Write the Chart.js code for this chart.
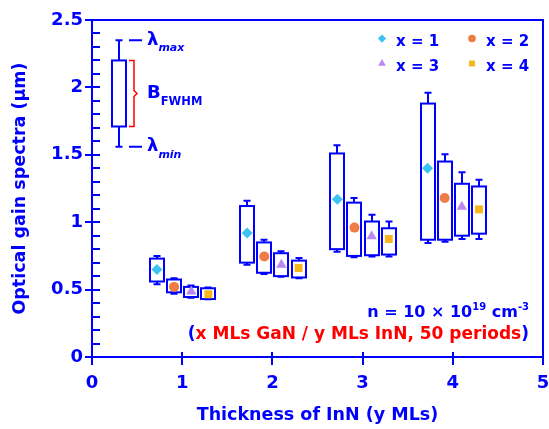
<!DOCTYPE html>
<html>
<head>
<meta charset="utf-8">
<script src="https://cdn.jsdelivr.net/npm/chart.js@4.4.1/dist/chart.umd.min.js"></script>
<style>
  html, body { margin: 0; padding: 0; background: #fff; }
</style>
</head>
<body>
<canvas id="gainChart" width="549" height="429"></canvas>
<script>
// --- data ---
const inNLayers = [1, 2, 3, 4];                       // y MLs
const seriesLabels = ["x = 1", "x = 2", "x = 3", "x = 4"]; // x MLs GaN

// each row = one x series, columns = y MLs 1..4 (um)
const peakGain = [
  [0.65, 0.92, 1.17, 1.40],
  [0.52, 0.745, 0.96, 1.18],
  [0.485, 0.685, 0.895, 1.115],
  [0.465, 0.66, 0.875, 1.095],
];
const lambdaMax = [
  [0.75, 1.16, 1.57, 1.96],
  [0.585, 0.87, 1.18, 1.505],
  [0.53, 0.785, 1.055, 1.37],
  [0.515, 0.735, 1.005, 1.315],
];
const fwhmTop = [
  [0.73, 1.12, 1.51, 1.88],
  [0.575, 0.85, 1.145, 1.45],
  [0.52, 0.77, 1.005, 1.285],
  [0.51, 0.715, 0.955, 1.265],
];
const fwhmBottom = [
  [0.56, 0.70, 0.80, 0.87],
  [0.48, 0.625, 0.75, 0.87],
  [0.445, 0.60, 0.755, 0.90],
  [0.43, 0.59, 0.76, 0.915],
];
const lambdaMin = [
  [0.54, 0.685, 0.78, 0.845],
  [0.47, 0.615, 0.74, 0.855],
  [0.44, 0.595, 0.745, 0.875],
  [0.428, 0.585, 0.745, 0.875],
];

// schematic key box (upper left): min, fwhm low, fwhm high, max
const keyX = 0.3;
const keyBox = [1.56, 1.71, 2.20, 2.35];

const xTicks = [0, 1, 2, 3, 4, 5];
const yTicks = [0, 0.5, 1, 1.5, 2, 2.5];

// --- styles ---
const BLUE = "#0000ff";
const RED = "#ff0000";
const FAMILY = "'DejaVu Sans', sans-serif";
const colors = ["#3cc3f3", "#ef7b45", "#b98af2", "#f5b719"];
const shapes = ["rectRot", "circle", "triangle", "rect"];
const radii = [5.5, 5, 6, 5.6];
const shift = [-0.28, -0.09, 0.10, 0.29];

const datasets = seriesLabels.map((label, s) => ({
  label: label,
  data: inNLayers.map((y, g) => ({ x: y + shift[s], y: peakGain[s][g] })),
  pointStyle: shapes[s],
  pointRadius: radii[s],
  pointHoverRadius: radii[s],
  backgroundColor: colors[s],
  borderColor: colors[s],
  borderWidth: 0,
  showLine: false,
}));

function drawBox(ctx, x, y, xv, vals) {
  const cx = Math.round(x.getPixelForValue(xv));
  const [lo, bLo, bHi, hi] = vals.map((v) => y.getPixelForValue(v));
  ctx.beginPath();
  ctx.moveTo(cx, hi); ctx.lineTo(cx, bHi);
  ctx.moveTo(cx, bLo); ctx.lineTo(cx, lo);
  ctx.moveTo(cx - 3.5, hi); ctx.lineTo(cx + 3.5, hi);
  ctx.moveTo(cx - 3.5, lo); ctx.lineTo(cx + 3.5, lo);
  ctx.stroke();
  ctx.fillRect(cx - 7, bHi, 14, bLo - bHi);
  ctx.strokeRect(cx - 7, bHi, 14, bLo - bHi);
  return { cx, lo, bLo, bHi, hi };
}

// text made of several pieces (sub/superscripts, two colours)
function textRuns(ctx, parts, x, y, align) {
  let w = 0;
  parts.forEach((p) => { ctx.font = p[1]; w += ctx.measureText(p[0]).width; });
  let cx = align === "right" ? x - w : x;
  parts.forEach((p) => {
    ctx.font = p[1];
    ctx.fillStyle = p[2];
    ctx.fillText(p[0], cx, y + (p[3] || 0));
    cx += ctx.measureText(p[0]).width;
  });
}

const boxPlugin = {
  id: "gainBoxes",
  beforeDatasetsDraw(chart) {
    const { ctx, chartArea: a, scales: { x, y } } = chart;
    ctx.save();
    ctx.strokeStyle = BLUE;
    ctx.fillStyle = "#fff";
    ctx.lineWidth = 2;

    // frame
    ctx.strokeRect(a.left, a.top, a.right - a.left, a.bottom - a.top);

    // y ticks: major cross the axis, minor point inward
    ctx.beginPath();
    for (let i = 0; i <= 25; i++) {
      const py = Math.round(y.getPixelForValue(i / 10));
      const major = i % 5 === 0;
      ctx.moveTo(a.left - (major ? 7 : 0), py);
      ctx.lineTo(a.left + 8, py);
    }
    xTicks.forEach((t) => {
      const px = Math.round(x.getPixelForValue(t));
      ctx.moveTo(px, a.bottom - 5);
      ctx.lineTo(px, a.bottom + 8);
    });
    ctx.stroke();

    // boxes
    for (let s = 0; s < seriesLabels.length; s++) {
      inNLayers.forEach((t, g) => {
        drawBox(ctx, x, y, t + shift[s], [lambdaMin[s][g], fwhmBottom[s][g], fwhmTop[s][g], lambdaMax[s][g]]);
      });
    }
    const k = drawBox(ctx, x, y, keyX, keyBox);

    // key annotations
    ctx.beginPath();
    ctx.moveTo(k.cx + 10, k.hi); ctx.lineTo(k.cx + 23, k.hi);
    ctx.moveTo(k.cx + 10, k.lo); ctx.lineTo(k.cx + 23, k.lo);
    ctx.stroke();
    ctx.strokeStyle = RED;
    ctx.lineWidth = 1.5;
    const mid = (k.bHi + k.bLo) / 2;
    ctx.beginPath();
    ctx.moveTo(k.cx + 10, k.bHi);
    ctx.lineTo(k.cx + 15, k.bHi);
    ctx.lineTo(k.cx + 15, mid - 3);
    ctx.lineTo(k.cx + 18, mid);
    ctx.lineTo(k.cx + 15, mid + 3);
    ctx.lineTo(k.cx + 15, k.bLo);
    ctx.lineTo(k.cx + 10, k.bLo);
    ctx.stroke();

    ctx.textAlign = "left";
    ctx.textBaseline = "alphabetic";
    const big = "bold 18px " + FAMILY;
    const sub = "italic bold 11px " + FAMILY;
    textRuns(ctx, [["\u03bb", big, BLUE], ["max", sub, BLUE, 6]], k.cx + 28, k.hi + 5);
    textRuns(ctx, [["B", big, BLUE], ["FWHM", "bold 11.5px " + FAMILY, BLUE, 7]], k.cx + 28, mid + 5);
    textRuns(ctx, [["\u03bb", big, BLUE], ["min", sub, BLUE, 7]], k.cx + 28, k.lo + 4);
    ctx.restore();
  },
  afterDraw(chart) {
    const { ctx } = chart;
    ctx.save();
    ctx.textAlign = "left";
    ctx.textBaseline = "alphabetic";

    // legend
    const legendFont = "bold 15px " + FAMILY;
    const pos = [[382, 38.5], [472, 38.5], [382, 63.5], [472, 63.5]];
    seriesLabels.forEach((label, s) => {
      ctx.fillStyle = colors[s];
      Chart.helpers.drawPoint(ctx, { pointStyle: shapes[s], radius: radii[s] * 0.75, rotation: 0, borderWidth: 0 }, pos[s][0], pos[s][1]);
      ctx.font = legendFont;
      ctx.fillStyle = BLUE;
      ctx.fillText(label, pos[s][0] + 14, pos[s][1] + 7.5);
    });

    // conditions
    const f16 = "bold 16px " + FAMILY;
    const f17 = "bold 17px " + FAMILY;
    const f10 = "bold 10px " + FAMILY;
    textRuns(ctx, [
      ["n = 10 \u00d7 10", f16, BLUE], ["19", f10, BLUE, -7], [" cm", f16, BLUE], ["-3", f10, BLUE, -7],
    ], 529, 317, "right");
    textRuns(ctx, [
      ["(", f17, BLUE], ["x MLs GaN / y MLs InN, 50 periods", f17, RED], [")", f17, BLUE],
    ], 529, 339, "right");
    ctx.restore();
  },
};

new Chart(document.getElementById("gainChart"), {
  type: "scatter",
  data: { datasets: datasets },
  options: {
    responsive: false,
    animation: false,
    devicePixelRatio: 1,
    layout: { padding: { top: 20, right: 6, left: 0, bottom: 0 } },
    plugins: { legend: { display: false }, tooltip: { enabled: false } },
    scales: {
      x: {
        type: "linear",
        min: 0,
        max: 5,
        afterBuildTicks: (s) => { s.ticks = xTicks.map((v) => ({ value: v })); },
        ticks: { color: BLUE, padding: 16, font: { family: FAMILY, size: 18, weight: "bold" } },
        grid: { display: false, drawTicks: false },
        border: { display: false },
        title: {
          display: true,
          text: "Thickness of InN (y MLs)",
          color: BLUE,
          font: { family: FAMILY, size: 17.5, weight: "bold" },
          padding: { top: 0, bottom: 3.5 },
        },
        afterFit: (s) => { s.height = 72; s.paddingLeft = 0; s.paddingRight = 0; },
      },
      y: {
        min: 0,
        max: 2.5,
        afterBuildTicks: (s) => { s.ticks = yTicks.map((v) => ({ value: v })); },
        ticks: {
          color: BLUE,
          padding: 9,
          font: { family: FAMILY, size: 18, weight: "bold" },
          callback: (v) => String(v),
        },
        grid: { display: false, drawTicks: false },
        border: { display: false },
        title: {
          display: true,
          text: "Optical gain spectra (\u03bcm)",
          color: BLUE,
          font: { family: FAMILY, size: 17.5, weight: "bold" },
          padding: { top: 9.5, bottom: 0 },
        },
        afterFit: (s) => { s.width = 92; s.paddingTop = 0; s.paddingBottom = 0; },
      },
    },
  },
  plugins: [boxPlugin],
});
</script>
</body>
</html>
